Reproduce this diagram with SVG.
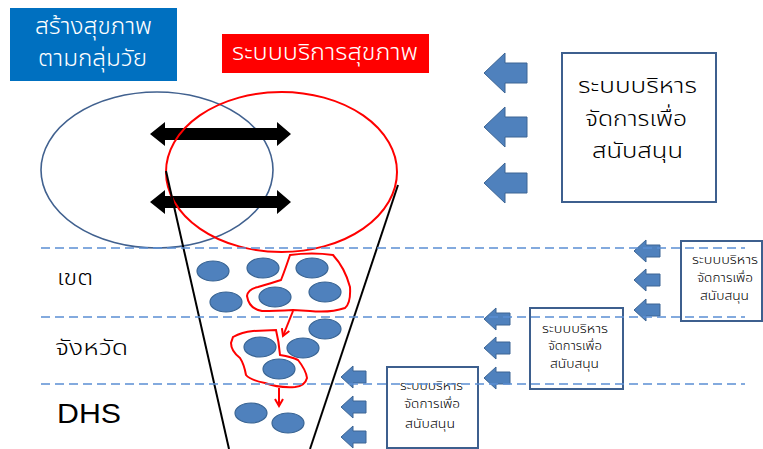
<svg xmlns="http://www.w3.org/2000/svg" width="763" height="449" viewBox="0 0 763 449">
<defs>
<style>
.th{font-family:"Noto Sans Thai","Noto Sans","DejaVu Sans",sans-serif;font-weight:300;}
.wt{fill:#fff;}
.bx{fill:#fff;stroke:#3d5f8e;stroke-width:2;}
.bt{fill:#000;}
.dot{fill:#4f81bd;stroke:#3a6594;stroke-width:1.2;}
.barrow{fill:#4f81bd;stroke:#3d6594;stroke-width:1;}
.dash{stroke:#5b8ed3;stroke-width:1.6;stroke-dasharray:9 5;fill:none;}
.red{fill:none;stroke:#ff0000;stroke-width:2;}
</style>
<marker id="rh" viewBox="0 0 10 10" refX="8" refY="5" markerWidth="5" markerHeight="5" orient="auto">
<path d="M1,1 L8,5 L1,9" fill="none" stroke="#ff0000" stroke-width="2"/>
</marker>
</defs>
<rect width="763" height="449" fill="#fff"/>

<g id="box-age">
<rect x="10" y="8" width="167" height="73" fill="#0070c0"/>
<text class="th wt" x="35" y="34" font-size="23" textLength="117" lengthAdjust="spacingAndGlyphs">สร้างสุขภาพ</text>
<text class="th wt" x="38" y="66" font-size="23" textLength="109" lengthAdjust="spacingAndGlyphs">ตามกลุ่มวัย</text>
</g>
<g id="box-service">
<rect x="222" y="34" width="207" height="39" fill="#ff0000"/>
<text class="th wt" x="232" y="60" font-size="23" textLength="186" lengthAdjust="spacingAndGlyphs">ระบบบริการสุขภาพ</text>
</g>

<g id="ellipse-blue"><ellipse cx="157" cy="170" rx="116" ry="78" fill="none" stroke="#41618f" stroke-width="1.6"/></g>

<g id="double-arrows">
<polygon points="150,134 165,122 165,128 277,128 277,122 291,134 277,146 277,140 165,140 165,146" fill="#000"/>
<polygon points="150,202 165,190 165,196 277,196 277,190 291,202 277,214 277,208 165,208 165,214" fill="#000"/>
</g>

<g id="ellipse-red"><ellipse cx="281.5" cy="172" rx="115.5" ry="80" class="red"/></g>

<g id="funnel">
<line x1="166" y1="171" x2="229" y2="449" stroke="#000" stroke-width="2"/>
<line x1="398" y1="185" x2="310" y2="449" stroke="#000" stroke-width="2"/>
</g>

<g id="level-labels">
<text class="th" x="57" y="285" font-size="22" fill="#000" textLength="36" lengthAdjust="spacingAndGlyphs">เขต</text>
<text class="th" x="55" y="355" font-size="22" fill="#000" textLength="73" lengthAdjust="spacingAndGlyphs">จังหวัด</text>
<text x="57" y="423" font-size="28" fill="#000" textLength="64" lengthAdjust="spacingAndGlyphs" font-family="'Liberation Sans',Arial,sans-serif">DHS</text>
</g>

<g id="units">
<ellipse class="dot" cx="213" cy="271" rx="16" ry="10"/>
<ellipse class="dot" cx="263" cy="268" rx="16" ry="10"/>
<ellipse class="dot" cx="312" cy="268" rx="16" ry="10"/>
<ellipse class="dot" cx="226" cy="302" rx="16" ry="10"/>
<ellipse class="dot" cx="275" cy="297" rx="16" ry="10"/>
<ellipse class="dot" cx="325" cy="292" rx="16" ry="10"/>
<ellipse class="dot" cx="325" cy="329" rx="16" ry="10"/>
<ellipse class="dot" cx="260" cy="347" rx="16" ry="10"/>
<ellipse class="dot" cx="303" cy="348" rx="16" ry="10"/>
<ellipse class="dot" cx="279" cy="369" rx="16" ry="10"/>
<ellipse class="dot" cx="251" cy="413" rx="16" ry="10"/>
<ellipse class="dot" cx="288" cy="423" rx="16" ry="10"/>
</g>

<g id="red-groups">
<path class="red" d="M290,255 Q312,252 333,255 Q345,268 350,287 Q351,303 345,308 Q330,313 310,311 L293,310 Q275,311 262,311 Q249,309 247,296 Q248,289 258,287 Q272,283 281,280 Q285,270 290,255 Z"/>
<path class="red" d="M233,337 Q242,332 253,331 L276,330 Q279,342 280,355 Q292,357 298,360 Q306,370 307,378 Q305,386 295,387 Q278,388 265,383 Q250,380 246,375 Q244,364 240,358 Q231,351 231,343 Z"/>
</g>

<g id="connectors">
<line x1="293" y1="311" x2="283" y2="336" class="red" marker-end="url(#rh)"/>
<line x1="279" y1="388" x2="279" y2="406" class="red" marker-end="url(#rh)"/>
</g>

<g id="box-support-main">
<rect class="bx" x="562" y="53" width="154" height="149"/>
<text class="th bt" x="578" y="93" font-size="22" textLength="119" lengthAdjust="spacingAndGlyphs">ระบบบริหาร</text>
<text class="th bt" x="585" y="126" font-size="22" textLength="102" lengthAdjust="spacingAndGlyphs">จัดการเพื่อ</text>
<text class="th bt" x="592" y="158" font-size="22" textLength="91" lengthAdjust="spacingAndGlyphs">สนับสนุน</text>
</g>
<g id="arrows-main">
<polygon class="barrow" points="484,73 505,53 505,63 527,63 527,83 505,83 505,93"/>
<polygon class="barrow" points="484,127 505,107 505,117 527,117 527,137 505,137 505,147"/>
<polygon class="barrow" points="484,183 505,163 505,173 527,173 527,193 505,193 505,203"/>
</g>

<g id="box-support-region">
<rect class="bx" x="681" y="241" width="81" height="80"/>
<text class="th bt" x="692" y="264" font-size="12" textLength="66" lengthAdjust="spacingAndGlyphs">ระบบบริหาร</text>
<text class="th bt" x="697" y="282" font-size="12" textLength="56" lengthAdjust="spacingAndGlyphs">จัดการเพื่อ</text>
<text class="th bt" x="700" y="300" font-size="12" textLength="49" lengthAdjust="spacingAndGlyphs">สนับสนุน</text>
</g>
<g id="arrows-region">
<polygon class="barrow" points="634,251 646,240 646,245 660,245 660,257 646,257 646,262"/>
<polygon class="barrow" points="634,280 646,269 646,274 660,274 660,286 646,286 646,291"/>
<polygon class="barrow" points="634,310 646,299 646,304 660,304 660,316 646,316 646,321"/>
</g>

<g id="box-support-province">
<rect class="bx" x="530" y="308" width="93" height="81"/>
<text class="th bt" x="542" y="333" font-size="12" textLength="66" lengthAdjust="spacingAndGlyphs">ระบบบริหาร</text>
<text class="th bt" x="548" y="350" font-size="12" textLength="54" lengthAdjust="spacingAndGlyphs">จัดการเพื่อ</text>
<text class="th bt" x="550" y="368" font-size="12" textLength="49" lengthAdjust="spacingAndGlyphs">สนับสนุน</text>
</g>
<g id="arrows-province">
<polygon class="barrow" points="484,319 496,308 496,313 510,313 510,325 496,325 496,330"/>
<polygon class="barrow" points="484,348 496,337 496,342 510,342 510,354 496,354 496,359"/>
<polygon class="barrow" points="484,378 496,367 496,372 510,372 510,384 496,384 496,389"/>
</g>

<g id="box-support-dhs">
<rect class="bx" x="387" y="367" width="91" height="81"/>
<text class="th bt" x="400" y="390" font-size="12" textLength="63" lengthAdjust="spacingAndGlyphs">ระบบบริหาร</text>
<text class="th bt" x="404" y="408" font-size="12" textLength="56" lengthAdjust="spacingAndGlyphs">จัดการเพื่อ</text>
<text class="th bt" x="405" y="428" font-size="12" textLength="50" lengthAdjust="spacingAndGlyphs">สนับสนุน</text>
</g>
<g id="arrows-dhs">
<polygon class="barrow" points="341,377 353,366 353,371 366,371 366,383 353,383 353,388"/>
<polygon class="barrow" points="341,407 353,396 353,401 366,401 366,413 353,413 353,418"/>
<polygon class="barrow" points="341,437 353,426 353,431 366,431 366,443 353,443 353,448"/>
</g>

<g id="level-lines">
<line class="dash" x1="41" y1="248" x2="745" y2="248"/>
<line class="dash" x1="41" y1="317" x2="745" y2="317"/>
<line class="dash" x1="41" y1="384" x2="745" y2="384"/>
</g>
</svg>
